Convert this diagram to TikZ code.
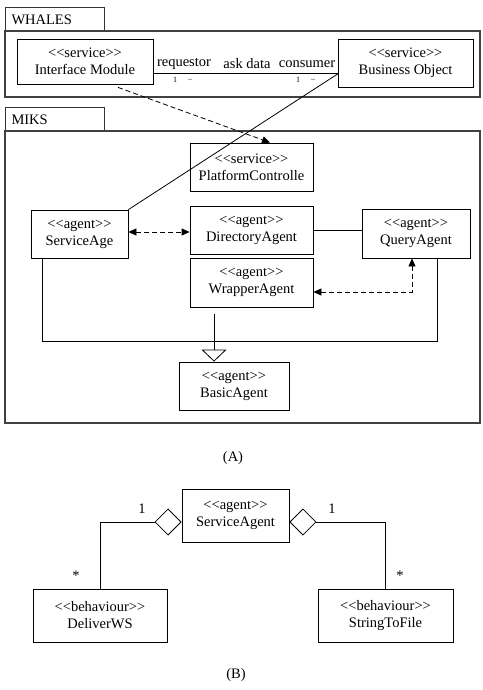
\documentclass[tikz,border=0pt]{standalone}
\usepackage{fontspec}
\setmainfont{Liberation Serif}
\usetikzlibrary{arrows.meta,positioning}

\newcommand{\stereo}[1]{<{}<#1>{}>}

\tikzset{
  umlbox/.style={draw, line width=0.8pt, align=center, inner sep=0pt,
    font=\fontsize{14.5}{17}\selectfont},
  pkgtab/.style={draw=black!80, line width=1pt, anchor=north west, inner sep=0pt,
    minimum width=99pt, minimum height=24pt, text width=87pt, align=left,
    font=\fontsize{14.5}{17}\selectfont},
  pkgframe/.style={draw=black!75, line width=1.2pt},
  lbl/.style={inner sep=1pt, font=\fontsize{14.5}{17}\selectfont},
  mult/.style={inner sep=0pt, font=\fontsize{8}{9}\selectfont},
  dep/.style={dash pattern=on 5pt off 3pt, line width=0.8pt, -{Triangle[length=8pt,width=7pt]}},
  bidep/.style={dash pattern=on 5pt off 3pt, line width=0.8pt,
    {Triangle[length=8pt,width=7pt]}-{Triangle[length=8pt,width=7pt]}},
  assoc/.style={line width=0.8pt},
  gen/.style={line width=0.8pt, -{Triangle[open,length=12pt,width=25pt]}},
  aggr/.style={line width=0.8pt, {Diamond[open,length=27pt,width=27pt]}-},
}

\begin{document}
\begin{tikzpicture}[x=1pt, y=-1pt]
    \useasboundingbox (0,0) rectangle (482,690);

    %%%%%%%%%%%%%%%%%%%%%%%%%%%%%%%%%%%%%%%%%%%%%%
    % (A): WHALES package
    %%%%%%%%%%%%%%%%%%%%%%%%%%%%%%%%%%%%%%%%%%%%%%
    \begin{scope}
      \node[pkgtab] (whalestab) at (5,7) {WHALES};
      \draw[pkgframe] (5,31) rectangle (480,97);

      % Services
      \node[umlbox, minimum width=136pt, minimum height=45pt] (im) at (85,61.5)
        {\stereo{service}\\Interface Module};
      \node[umlbox, minimum width=135pt, minimum height=48pt] (bo) at (405.5,63)
        {\stereo{service}\\Business Object};

      % Association requestor -- consumer
      \coordinate (askline) at (0,73);
      \draw[assoc] (im.east |- askline) -- (bo.west |- askline);
      \node[lbl] (req) at (184,64) {requestor};
      \node[lbl] (ask) at (247,64) {ask data};
      \node[lbl] (con) at (307,64) {consumer};
      \node[mult] (reqone) at (175,80) {1};
      \node[mult] (reqmany) at (190,80) {--};
      \node[mult] (conone) at (298,80) {1};
      \node[mult] (conmany) at (313,80) {--};
    \end{scope}

    %%%%%%%%%%%%%%%%%%%%%%%%%%%%%%%%%%%%%%%%%%%%%%
    % (A): MIKS package
    %%%%%%%%%%%%%%%%%%%%%%%%%%%%%%%%%%%%%%%%%%%%%%
    \begin{scope}
      \node[pkgtab] (mikstab) at (5,107) {MIKS};
      \draw[pkgframe] (5,131) rectangle (480,423);

      % Agents
      \node[umlbox, minimum width=123pt, minimum height=48pt] (pc) at (251.5,167)
        {\stereo{service}\\PlatformControlle};
      \node[umlbox, minimum width=97pt, minimum height=48pt] (sa) at (79.5,234)
        {\stereo{agent}\\ServiceAge};
      \node[umlbox, minimum width=123pt, minimum height=48pt] (da) at (251.5,230)
        {\stereo{agent}\\DirectoryAgent};
      \node[umlbox, minimum width=108pt, minimum height=49pt] (qa) at (416,233.5)
        {\stereo{agent}\\QueryAgent};
      \node[umlbox, minimum width=123pt, minimum height=49pt] (wa) at (251.5,282.5)
        {\stereo{agent}\\WrapperAgent};
      \node[umlbox, minimum width=110pt, minimum height=48pt] (ba) at (234,386)
        {\stereo{agent}\\BasicAgent};

      % Links inside MIKS
      \draw[bidep] (sa.east |- 0,232) -- (da.west |- 0,232);
      \draw[assoc] (da.east |- 0,230) -- (qa.west |- 0,230);
      \draw[bidep] ([yshift=-9.5pt]wa.east) -| ([xshift=-4pt]qa.south);

      % Generalization to BasicAgent
      \coordinate (bend) at (437,341);
      \draw[assoc] ([xshift=-37.5pt]sa.south) |- (bend) -- ([xshift=21pt]qa.south);
      \draw[gen] ([xshift=-37.5pt,yshift=-7pt]wa.south) -- ([xshift=-20pt]ba.north);
    \end{scope}

    % Links across the packages
    \draw[dep] ([xshift=33pt,yshift=-3pt]im.south) -- ([xshift=18.5pt]pc.north);
    \draw[assoc] ([yshift=-11pt]bo.west) -- (sa.north east);

    \node[lbl] (capA) at (233,458) {(A)};

    %%%%%%%%%%%%%%%%%%%%%%%%%%%%%%%%%%%%%%%%%%%%%%
    % (B): ServiceAgent and its behaviours
    %%%%%%%%%%%%%%%%%%%%%%%%%%%%%%%%%%%%%%%%%%%%%%
    \begin{scope}
      \node[umlbox, minimum width=107pt, minimum height=53pt] (sag) at (235.5,515.5)
        {\stereo{agent}\\ServiceAgent};
      \node[umlbox, minimum width=134pt, minimum height=53pt] (dws) at (100,615.5)
        {\stereo{behaviour}\\DeliverWS};
      \node[umlbox, minimum width=135pt, minimum height=53pt] (stf) at (385.5,615.5)
        {\stereo{behaviour}\\StringToFile};

      % Aggregations
      \draw[aggr] ([yshift=-6.5pt]sag.west) -| (dws.north);
      \draw[aggr] ([yshift=-6.5pt]sag.east) -| (stf.north);
      \node[lbl] (oneL) at (142,509) {1};
      \node[lbl] (manyL) at (76,576) {*};
      \node[lbl] (oneR) at (332,509) {1};
      \node[lbl] (manyR) at (400,576) {*};
    \end{scope}

    \node[lbl] (capB) at (236,675) {(B)};
\end{tikzpicture}
\end{document}
